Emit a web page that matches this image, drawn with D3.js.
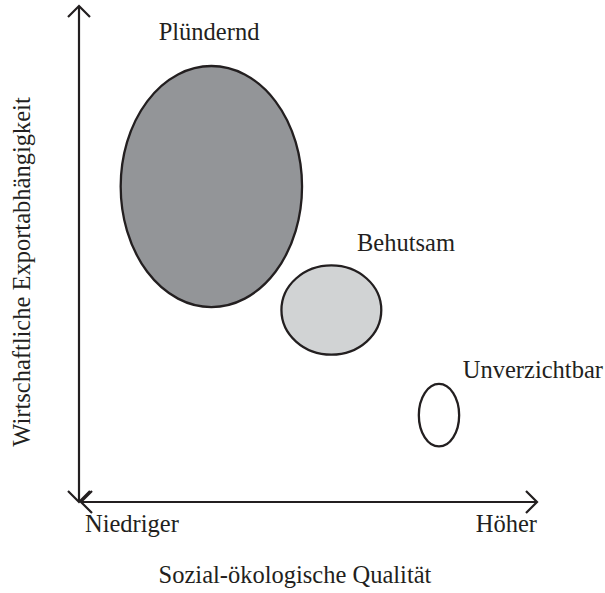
<!DOCTYPE html>
<html>
<head>
<meta charset="utf-8">
<script src="https://cdn.jsdelivr.net/npm/d3@7"></script>
<style>
  body { margin: 0; background: #fff; }
  text { font-family: "Liberation Serif", "Times New Roman", serif; fill: #231f20; }
</style>
</head>
<body>
<div id="chart"></div>
<script>
// Gruppen und ihre Lage (x: sozial-ökologische Qualität, y: Exportabhängigkeit, 0..10)
var groups = ['Plündernd', 'Behutsam', 'Unverzichtbar']
var quality = [2.89, 5.51, 7.86]
var exportDep = [6.36, 3.87, 1.75]
var spreadX = [1.98, 1.09, 0.44]
var spreadY = [2.43, 0.90, 0.63]
var fills = ['#939598', '#d1d3d4', '#ffffff']
// Lage der Beschriftungen
var labelX = [1.74, 6.07, 8.38]
var labelY = [9.31, 5.07, 2.49]

var xLow = 'Niedriger', xHigh = 'Höher'
var xTitle = 'Sozial-ökologische Qualität'
var yTitle = 'Wirtschaftliche Exportabhängigkeit'

var width = 605, height = 593
var fontSize = '24.5px'

var svg = d3.select('#chart').append('svg')
    .attr('width', width).attr('height', height)

var x = d3.scaleLinear().domain([0, 10]).range([79, 537])
var y = d3.scaleLinear().domain([0, 10]).range([502, 6])

var data = groups.map(function(g, i) {
    return { name: g, q: quality[i], e: exportDep[i], rx: spreadX[i], ry: spreadY[i], fill: fills[i], lx: labelX[i], ly: labelY[i] }
})

// Achsen mit Pfeilen
var stroke = '#231f20'
var axes = svg.append('g').attr('stroke', stroke).attr('stroke-width', 2.2).attr('fill', 'none')
axes.append('line').attr('x1', x(0)).attr('x2', x(0)).attr('y1', y(10)).attr('y2', y(0))
axes.append('line').attr('x1', x(0) + 2).attr('x2', x(10)).attr('y1', y(0)).attr('y2', y(0))
var ah = 11
// oben
axes.append('path').attr('d', `M${x(0) - ah},${y(10) + ah} L${x(0)},${y(10)} L${x(0) + ah},${y(10) + ah}`)
// unten
axes.append('path').attr('d', `M${x(0) - ah},${y(0) - ah} L${x(0)},${y(0)} L${x(0) + ah},${y(0) - ah}`)
// links
axes.append('path').attr('d', `M${x(0) + 2 + ah},${y(0) - ah} L${x(0) + 2},${y(0)} L${x(0) + 2 + ah},${y(0) + ah}`)
// rechts
axes.append('path').attr('d', `M${x(10) - ah},${y(0) - ah} L${x(10)},${y(0)} L${x(10) - ah},${y(0) + ah}`)

// Ellipsen
svg.selectAll('ellipse')
    .data(data)
    .join('ellipse')
    .attr('cx', function(d) { return x(d.q) })
    .attr('cy', function(d) { return y(d.e) })
    .attr('rx', function(d) { return x(d.rx) - x(0) })
    .attr('ry', function(d) { return y(0) - y(d.ry) })
    .style('fill', function(d) { return d.fill })
    .style('stroke', stroke)
    .style('stroke-width', 2.3)

svg.selectAll('.label')
    .data(data)
    .join('text')
    .attr('class', 'label')
    .attr('x', function(d) { return x(d.lx) })
    .attr('y', function(d) { return y(d.ly) })
    .style('font-size', fontSize)
    .text(function(d) { return d.name })

svg.append('text').attr('x', x(0) + 6).attr('y', 532).style('font-size', fontSize).text(xLow)
svg.append('text').attr('x', x(10)).attr('y', 532).attr('text-anchor', 'end').style('font-size', fontSize).text(xHigh)
svg.append('text').attr('x', 295).attr('y', 583).attr('text-anchor', 'middle').style('font-size', fontSize).text(xTitle)
svg.append('text')
    .attr('transform', `translate(30, ${(y(0) + y(10)) / 2 + 18}) rotate(-90)`)
    .attr('text-anchor', 'middle')
    .style('font-size', fontSize)
    .text(yTitle)
</script>
</body>
</html>
